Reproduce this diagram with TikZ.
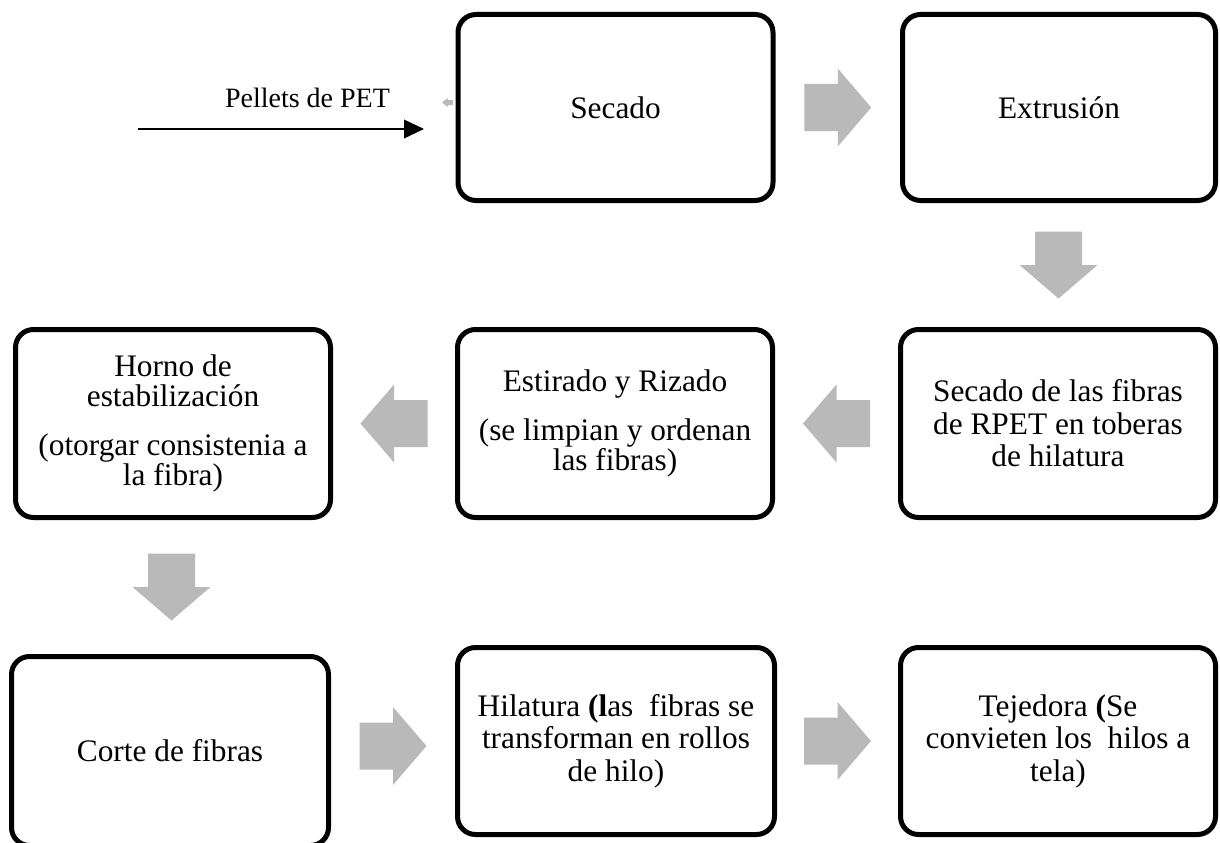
\documentclass[tikz,border=0pt]{standalone}
\usepackage{fontspec}
\setmainfont{Liberation Serif}
\usetikzlibrary{arrows.meta,calc}
\definecolor{arrowgray}{RGB}{185,185,185}
\begin{document}
\begin{tikzpicture}[x=0.75pt,y=-0.75pt,
  procbox/.style={draw=black, line width=3.75pt, rounded corners=13.5pt, fill=white,
    align=center, inner sep=0pt, minimum width=236.25pt, minimum height=141pt,
    font=\fontsize{23.5}{24.4}\selectfont},
  pellet/.style={font=\fontsize{21}{24}\selectfont, inner sep=0pt},
  feedline/.style={line width=1.1pt, -{Triangle[length=15pt,width=14pt]}},
  blockarrow/.pic={\fill[arrowgray] (-33.5,-23.5) -- (0,-23.5) -- (0,-39) -- (33.5,0)
    -- (0,39) -- (0,23.5) -- (-33.5,23.5) -- cycle;}]
\useasboundingbox (0,0) rectangle (1220,842);

% process boxes
\node[procbox, minimum height=139.5pt] (secado) at (615.5,107.5) {Secado};
\node[procbox, minimum width=234.75pt, minimum height=139.5pt] (extr) at (1059,107.5) {Extrusión};
\node[procbox] (fib) at (1058,423.5) {Secado de las fibras\\de RPET en toberas\\de hilatura};
\node[procbox] (est) at (615,423.5) {Estirado y Rizado\\[12.4pt](se limpian y ordenan\\[-1.9pt]las fibras)};
\node[procbox] (horno) at (173,423.5) {Horno de\\[-1.9pt]estabilización\\[12.8pt](otorgar consistenia a\\[-1.9pt]la fibra)};
\node[procbox, minimum width=237.75pt, minimum height=141.75pt] (corte) at (170,751) {Corte de fibras};
\node[procbox, minimum width=237.75pt, minimum height=140.25pt] (hil) at (616,741) {Hilatura \textbf{(l}as\ \ fibras se\\transforman en rollos\\de hilo)};
\node[procbox, minimum height=140.25pt] (tej) at (1058,741) {Tejedora \textbf{(}Se\\convieten los\ \ hilos a\\tela)};

% block arrows between boxes
\pic at ($(secado.east)!0.5!(extr.west)$) {blockarrow};
\pic[rotate=-90] at ($(extr.south)!0.5!(fib.north)$) {blockarrow};
\pic[rotate=180] at ($(fib.west)!0.5!(est.east)$) {blockarrow};
\pic[rotate=180] at ($(est.west)!0.5!(horno.east)$) {blockarrow};
\pic[rotate=-90] at ($(horno.south)!0.5!(corte.north)$) {blockarrow};
\pic at ($(corte.east)!0.5!(hil.west)$) {blockarrow};
\pic at ($(hil.east)!0.5!(tej.west)$) {blockarrow};

% input: pellets
\coordinate (pin) at (138,129);
\coordinate (pout) at (424,129);
\draw[feedline] (pin) -- (pout);
\node[pellet] (pel) at (307.5,98) {Pellets de PET};

% tiny grey arrow at the left of Secado
\fill[arrowgray, shift={(secado.west)}] (-2.5,-7.5) -- (-8,-7.5) -- (-8,-9.5) -- (-13.5,-5)
  -- (-8,-0.5) -- (-8,-2.5) -- (-2.5,-2.5) -- cycle;
\end{tikzpicture}
\end{document}
